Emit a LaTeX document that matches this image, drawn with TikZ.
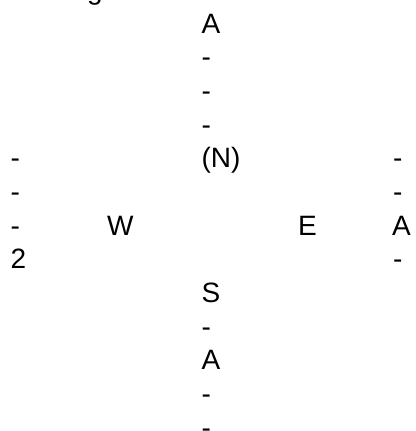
\documentclass[tikz,border=0pt]{standalone}
\usepackage{fontspec}
\setmainfont{Liberation Sans}
\begin{document}
\begin{tikzpicture}[x=1pt,y=1pt,
  glyph/.style={inner sep=0pt, outer sep=0pt, anchor=base west,
    font=\fontsize{28pt}{33.65pt}\selectfont}]
\useasboundingbox (0,0) rectangle (415,-431);
\clip (0,0) rectangle (415,-431);
% partial line above the picture
\node[glyph] (top) at (87,0.35) {g};
% centre column
\node[glyph] (c0) at (201.5,-33.3) {A};
\node[glyph] (c1) at (201.5,-66.95) {-};
\node[glyph] (c2) at (201.5,-100.6) {-};
\node[glyph] (c3) at (201.5,-134.25) {-};
\node[glyph] (c4) at (201.5,-167.9) {(N)};
\node[glyph] (c8) at (201.5,-302.5) {S};
\node[glyph] (c9) at (201.5,-336.15) {-};
\node[glyph] (c10) at (201.5,-369.8) {A};
\node[glyph] (c11) at (201.5,-403.45) {-};
\node[glyph] (c12) at (201.5,-437.1) {-};
% left column
\node[glyph] (l4) at (10.5,-167.9) {-};
\node[glyph] (l5) at (10.5,-201.55) {-};
\node[glyph] (l6) at (10.5,-235.2) {-};
\node[glyph] (l7) at (10.5,-268.85) {2};
% W and E
\node[glyph] (w) at (107,-235.2) {W};
\node[glyph] (e) at (298,-235.2) {E};
% right column
\node[glyph] (r4) at (393,-167.9) {-};
\node[glyph] (r5) at (393,-201.55) {-};
\node[glyph] (r6) at (392,-235.2) {A};
\node[glyph] (r7) at (393,-268.85) {-};
\end{tikzpicture}
\end{document}
